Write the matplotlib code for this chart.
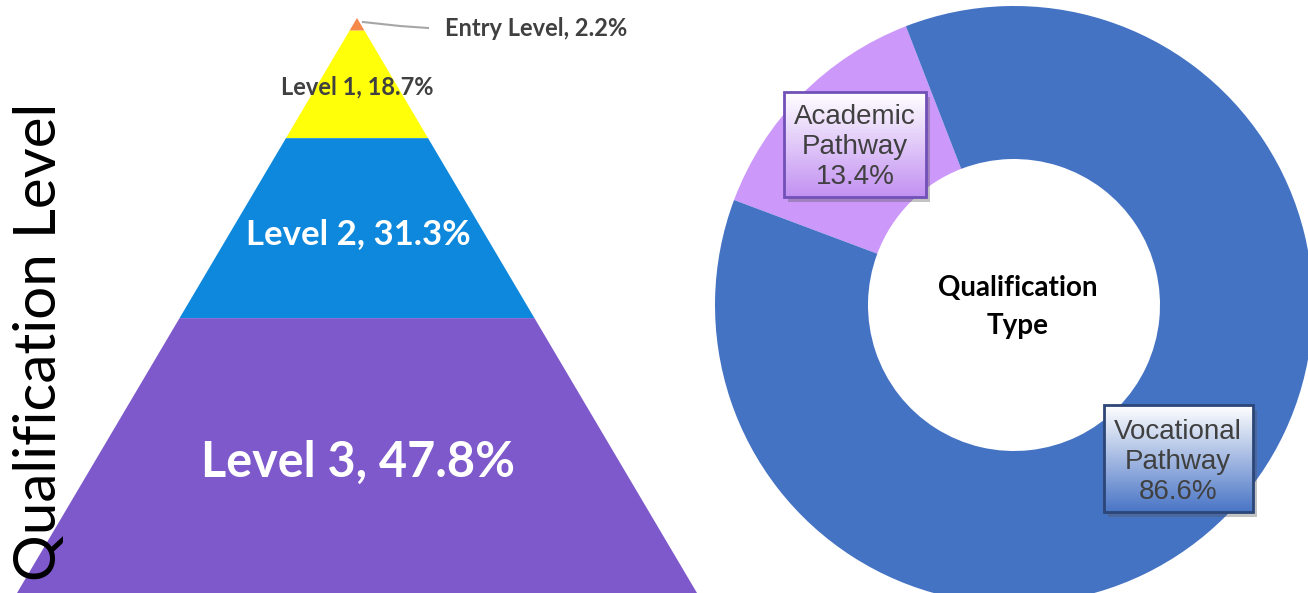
import numpy as np
import matplotlib
matplotlib.use('Agg')
import matplotlib.pyplot as plt
from matplotlib.patches import Polygon, Wedge, Rectangle

# Pyramid data (top to bottom)
levels = ['Entry Level', 'Level 1', 'Level 2', 'Level 3']
level_pct = [2.2, 18.7, 31.3, 47.8]
level_colors = ['#f5894a', '#ffff0a', '#0e88dc', '#7e59cb']

# Donut data
pathways = ['Academic\nPathway', 'Vocational\nPathway']
pathway_pct = [13.4, 86.6]
pathway_colors = ['#cc99fa', '#4573c4']

fig = plt.figure(figsize=(13.08, 5.93), dpi=100)
ax = fig.add_axes([0, 0, 1, 1])
ax.set_xlim(0, 1308)
ax.set_ylim(593, 0)
ax.axis('off')

# ---- pyramid ----
apex_x, apex_y, base_y, half_base = 357, 18, 593, 340
height = base_y - apex_y


def half_w(y):
    return (y - apex_y) / height * half_base


cum = np.concatenate([[0], np.cumsum(level_pct)]) / 100.0
for i, (name, pct, col) in enumerate(zip(levels, level_pct, level_colors)):
    y0 = apex_y + cum[i] * height
    y1 = apex_y + cum[i + 1] * height
    pts = [(apex_x - half_w(y0), y0), (apex_x + half_w(y0), y0),
           (apex_x + half_w(y1), y1), (apex_x - half_w(y1), y1)]
    ax.add_patch(Polygon(pts, closed=True, facecolor=col, edgecolor='none'))

# pyramid labels
ax.plot([363, 400, 428], [22, 26, 28], color='#a6a6a6', lw=1.5)
ax.text(445, 29, f'{levels[0]}, {level_pct[0]}%', fontsize=17, fontweight='bold',
        color='#404040', family='Lato', va='center', ha='left')
ax.text(357, 87, f'{levels[1]}, {level_pct[1]}%', fontsize=17, fontweight='bold',
        color='#404040', family='Lato', va='center', ha='center')
ax.text(358, 234, f'{levels[2]}, {level_pct[2]}%', fontsize=25, fontweight='bold',
        color='white', family='Lato', va='center', ha='center')
ax.text(358, 462, f'{levels[3]}, {level_pct[3]}%', fontsize=35, fontweight='bold',
        color='white', family='Lato', va='center', ha='center')

ax.text(40, 342, 'Qualification Level', fontsize=42, rotation=90, color='black',
        family='Lato', va='center', ha='center')

# ---- donut ----
cx, cy, r_out, r_in = 1014, 305, 299, 146
start = 111.2
for pct, col in zip(pathway_pct, pathway_colors):
    span = pct / 100.0 * 360
    # y axis is inverted, so flip angles
    ax.add_patch(Wedge((cx, cy), r_out, -(start + span), -start,
                       width=r_out - r_in, facecolor=col, edgecolor='none'))
    start += span

ax.text(1018, 307, 'Qualification\nType', fontsize=20, fontweight='bold',
        family='Lato', ha='center', va='center', linespacing=1.55, color='black')


def grad_box(x0, y0, x1, y1, top_col, bot_col, edge_col):
    # shadow
    ax.add_patch(Rectangle((x0 + 4, y0 + 5), x1 - x0, y1 - y0,
                           facecolor='#555555', alpha=0.35, edgecolor='none', zorder=3))
    c0 = np.array(matplotlib.colors.to_rgb(top_col))
    c1 = np.array(matplotlib.colors.to_rgb(bot_col))
    t = np.linspace(0, 1, 100)[:, None]
    img = (c0 * (1 - t) + c1 * t)[:, None, :]
    ax.imshow(img, extent=(x0, x1, y1, y0), aspect='auto', zorder=4)
    ax.add_patch(Rectangle((x0, y0), x1 - x0, y1 - y0, facecolor='none',
                           edgecolor=edge_col, lw=2, zorder=5))


grad_box(784, 92, 926, 197, '#ffffff', '#c291f2', '#7150b8')
ax.text(855, 147, f'{pathways[0]}\n{pathway_pct[0]}%', fontsize=20,
        family='Liberation Sans', color='#404040', ha='center', va='center',
        linespacing=1.22, zorder=6)

grad_box(1104, 405, 1253, 512, '#ffffff', '#4a75c6', '#2b4677')
ax.text(1178, 462, f'{pathways[1]}\n{pathway_pct[1]}%', fontsize=20,
        family='Liberation Sans', color='#404040', ha='center', va='center',
        linespacing=1.22, zorder=6)

ax.set_xlim(0, 1308)
ax.set_ylim(593, 0)
fig.savefig('out.png', dpi=100)
